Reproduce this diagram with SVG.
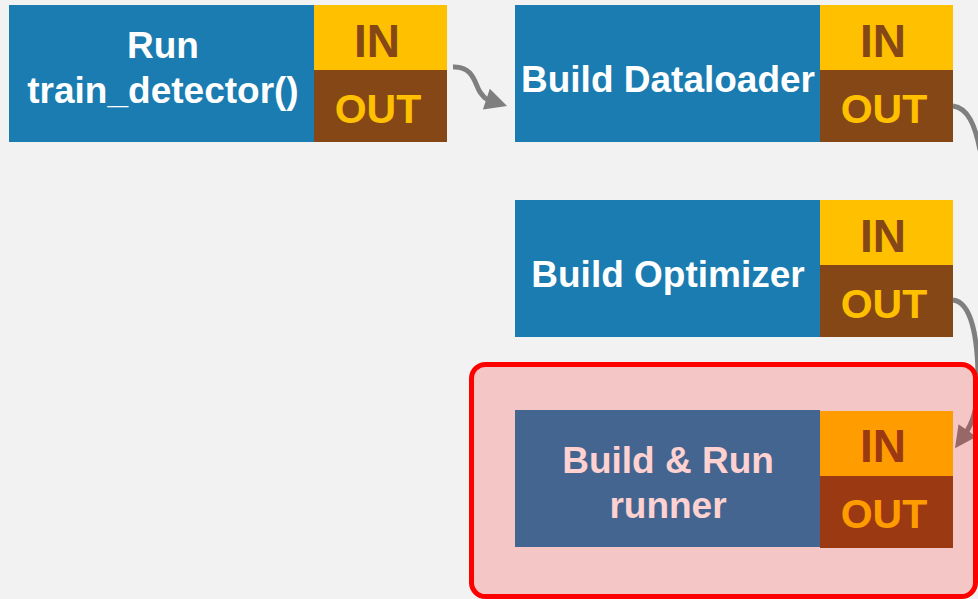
<svg xmlns="http://www.w3.org/2000/svg" width="978" height="599" viewBox="0 0 978 599">
  <defs>
    <style>
      .body { fill: #1a7cb0; }
      .in { fill: #ffc000; }
      .out { fill: #864716; }
      text { font-family: "Liberation Sans", Arial, sans-serif; font-weight: bold; text-anchor: middle; }
      .label { fill: #ffffff; font-size: 37px; }
      .tin { fill: #864716; font-size: 46px; }
      .tout { fill: #ffc000; font-size: 41px; }
      .wire { fill: none; stroke: #7f7f7f; stroke-width: 5; }
    </style>
    <marker id="head" markerUnits="userSpaceOnUse" markerWidth="24" markerHeight="24" viewBox="0 -11 20 22" refX="4" refY="0" orient="auto">
      <path d="M0,-10 L20,0 L0,10 z" fill="#7f7f7f"/>
    </marker>
  </defs>

  <rect x="0" y="0" width="978" height="599" fill="#f2f2f2"/>

  <g id="train_detector">
    <rect class="body" x="9" y="5" width="305" height="137"/>
    <rect class="in" x="314" y="5" width="133" height="65"/>
    <rect class="out" x="314" y="70" width="133" height="72"/>
    <text class="label" x="163" y="58">Run</text>
    <text class="label" x="163" y="103">train_detector()</text>
    <text class="tin" x="377" y="57">IN</text>
    <text class="tout" x="378" y="123">OUT</text>
  </g>

  <g id="dataloader">
    <rect class="body" x="515" y="5" width="305" height="137"/>
    <rect class="in" x="820" y="5" width="133" height="65"/>
    <rect class="out" x="820" y="70" width="133" height="72"/>
    <text class="label" x="668" y="92">Build Dataloader</text>
    <text class="tin" x="883" y="57">IN</text>
    <text class="tout" x="884" y="123">OUT</text>
  </g>

  <g id="optimizer">
    <rect class="body" x="515" y="200" width="305" height="137"/>
    <rect class="in" x="820" y="200" width="133" height="65"/>
    <rect class="out" x="820" y="265" width="133" height="72"/>
    <text class="label" x="668" y="287">Build Optimizer</text>
    <text class="tin" x="883" y="252">IN</text>
    <text class="tout" x="884" y="318">OUT</text>
  </g>

  <g id="runner">
    <rect class="body" x="515" y="410" width="305" height="137"/>
    <rect class="in" x="820" y="411" width="133" height="65"/>
    <rect class="out" x="820" y="476" width="133" height="72"/>
    <text class="label" x="668" y="473">Build &amp; Run</text>
    <text class="label" x="668" y="518">runner</text>
    <text class="tin" x="883" y="462">IN</text>
    <text class="tout" x="884" y="528">OUT</text>
  </g>

  <g id="connectors">
    <path class="wire" d="M453,67 C474,66 475,85 480,92 S486,99 490.5,100.5" marker-end="url(#head)"/>
    <path class="wire" d="M953,106 C968,108 975,125 980,150"/>
    <path class="wire" d="M953,300 C972,302 978,340 978,380 C978,410 972,424 965,434" marker-end="url(#head)"/>
  </g>

  <g id="highlight">
    <rect x="471.5" y="364.5" width="504" height="232" rx="14" fill="#ff0000" fill-opacity="0.18" stroke="#ff0000" stroke-width="5"/>
  </g>
</svg>
